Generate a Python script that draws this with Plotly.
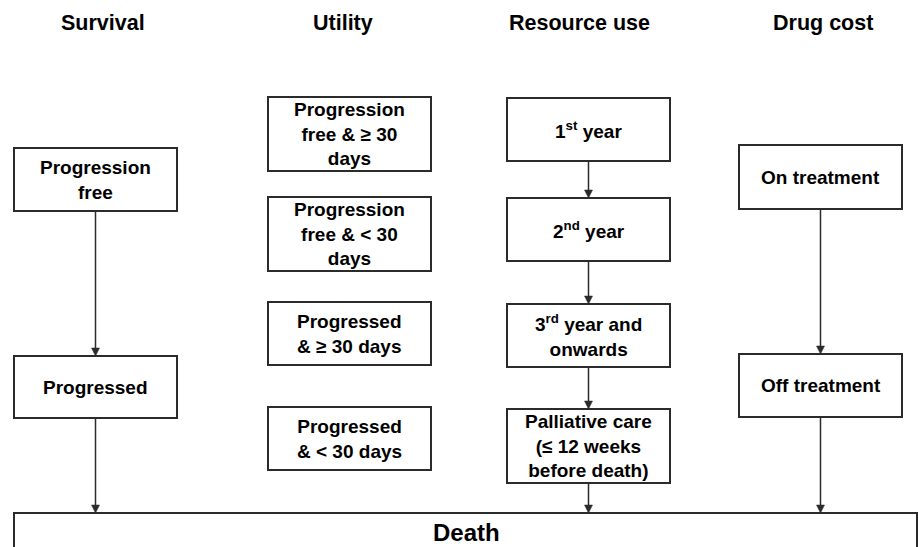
import plotly.graph_objects as go

# ---- content ----
column_titles = ["Survival", "Utility", "Resource use", "Drug cost"]
survival_states = ["Progression<br>free", "Progressed"]
utility_states = ["Progression<br>free & \u2265 30<br>days",
                  "Progression<br>free & < 30<br>days",
                  "Progressed<br>& \u2265 30 days",
                  "Progressed<br>& < 30 days"]
resource_states = ["1<sup>st</sup> year", "2<sup>nd</sup> year",
                   "3<sup>rd</sup> year and<br>onwards",
                   "Palliative care<br>(\u2264 12 weeks<br>before death)"]
drug_states = ["On treatment", "Off treatment"]
final_state = "Death"

# ---- geometry (pixels, y downward) ----
title_x = [103, 343, 579, 823]
title_y = 23
col_x = {"survival": (14, 177), "utility": (268, 431),
         "resource": (507, 670), "drug": (739, 902)}
survival_y = [(148, 211), (356, 418)]
utility_y = [(97, 171), (197, 271), (302, 365), (407, 470)]
resource_y = [(98, 161), (198, 261), (304, 367), (409, 483)]
drug_y = [(145, 209), (354, 417)]
death_box = (14, 513, 917, 560)

W, H = 919, 547
LINE = "#2b2b2b"
FONT = "Liberation Sans, Arial, sans-serif"

fig = go.Figure()
shapes = []
annotations = []

def box(x0, x1, y0, y1, label, size=19):
    shapes.append(dict(type="rect", x0=x0, x1=x1, y0=y0, y1=y1, xref="x", yref="y",
                       line=dict(color=LINE, width=2), fillcolor="white", layer="above"))
    annotations.append(dict(x=(x0 + x1) / 2, y=(y0 + y1) / 2, xref="x", yref="y",
                            text=label, showarrow=False,
                            font=dict(family=FONT, size=size, color="black", weight="bold"),
                            align="center"))

def arrow(x, y_from, y_to, hw=4, hl=8):
    shapes.append(dict(type="line", x0=x, x1=x, y0=y_from, y1=y_to - hl + 1,
                       xref="x", yref="y", line=dict(color=LINE, width=1.5)))
    shapes.append(dict(type="path", xref="x", yref="y",
                       path=f"M {x - hw} {y_to - hl} L {x + hw} {y_to - hl} L {x} {y_to} Z",
                       fillcolor=LINE, line=dict(color=LINE, width=0.5)))

for t, tx in zip(column_titles, title_x):
    annotations.append(dict(x=tx, y=title_y, xref="x", yref="y", text=t, showarrow=False,
                            font=dict(family=FONT, size=21.5, color="black", weight="bold")))

def column(key, ys, labels, chain=True):
    x0, x1 = col_x[key]
    for (y0, y1), lab in zip(ys, labels):
        box(x0, x1, y0, y1, lab)
    if chain:
        cx = (x0 + x1) / 2
        for i in range(len(ys) - 1):
            arrow(cx, ys[i][1], ys[i + 1][0])
        arrow(cx, ys[-1][1], death_box[1])

column("survival", survival_y, survival_states)
column("utility", utility_y, utility_states, chain=False)
column("resource", resource_y, resource_states)
column("drug", drug_y, drug_states)

# death box
dx0, dy0, dx1, dy1 = death_box
shapes.append(dict(type="rect", x0=dx0, x1=dx1, y0=dy0, y1=dy1, xref="x", yref="y",
                   line=dict(color=LINE, width=2), fillcolor="white", layer="below"))
annotations.append(dict(x=466, y=532, xref="x", yref="y", text=final_state, showarrow=False,
                        font=dict(family=FONT, size=24, color="black", weight="bold")))

fig.update_layout(
    width=W, height=H, margin=dict(l=0, r=0, t=0, b=0),
    paper_bgcolor="white", plot_bgcolor="white",
    xaxis=dict(range=[0, W], visible=False, fixedrange=True),
    yaxis=dict(range=[H, 0], visible=False, fixedrange=True),
    shapes=shapes, annotations=annotations, showlegend=False,
)
fig.write_html("out.html", config={"displayModeBar": False},
               post_script="document.body.style.margin='0';document.body.style.overflow='hidden';")
